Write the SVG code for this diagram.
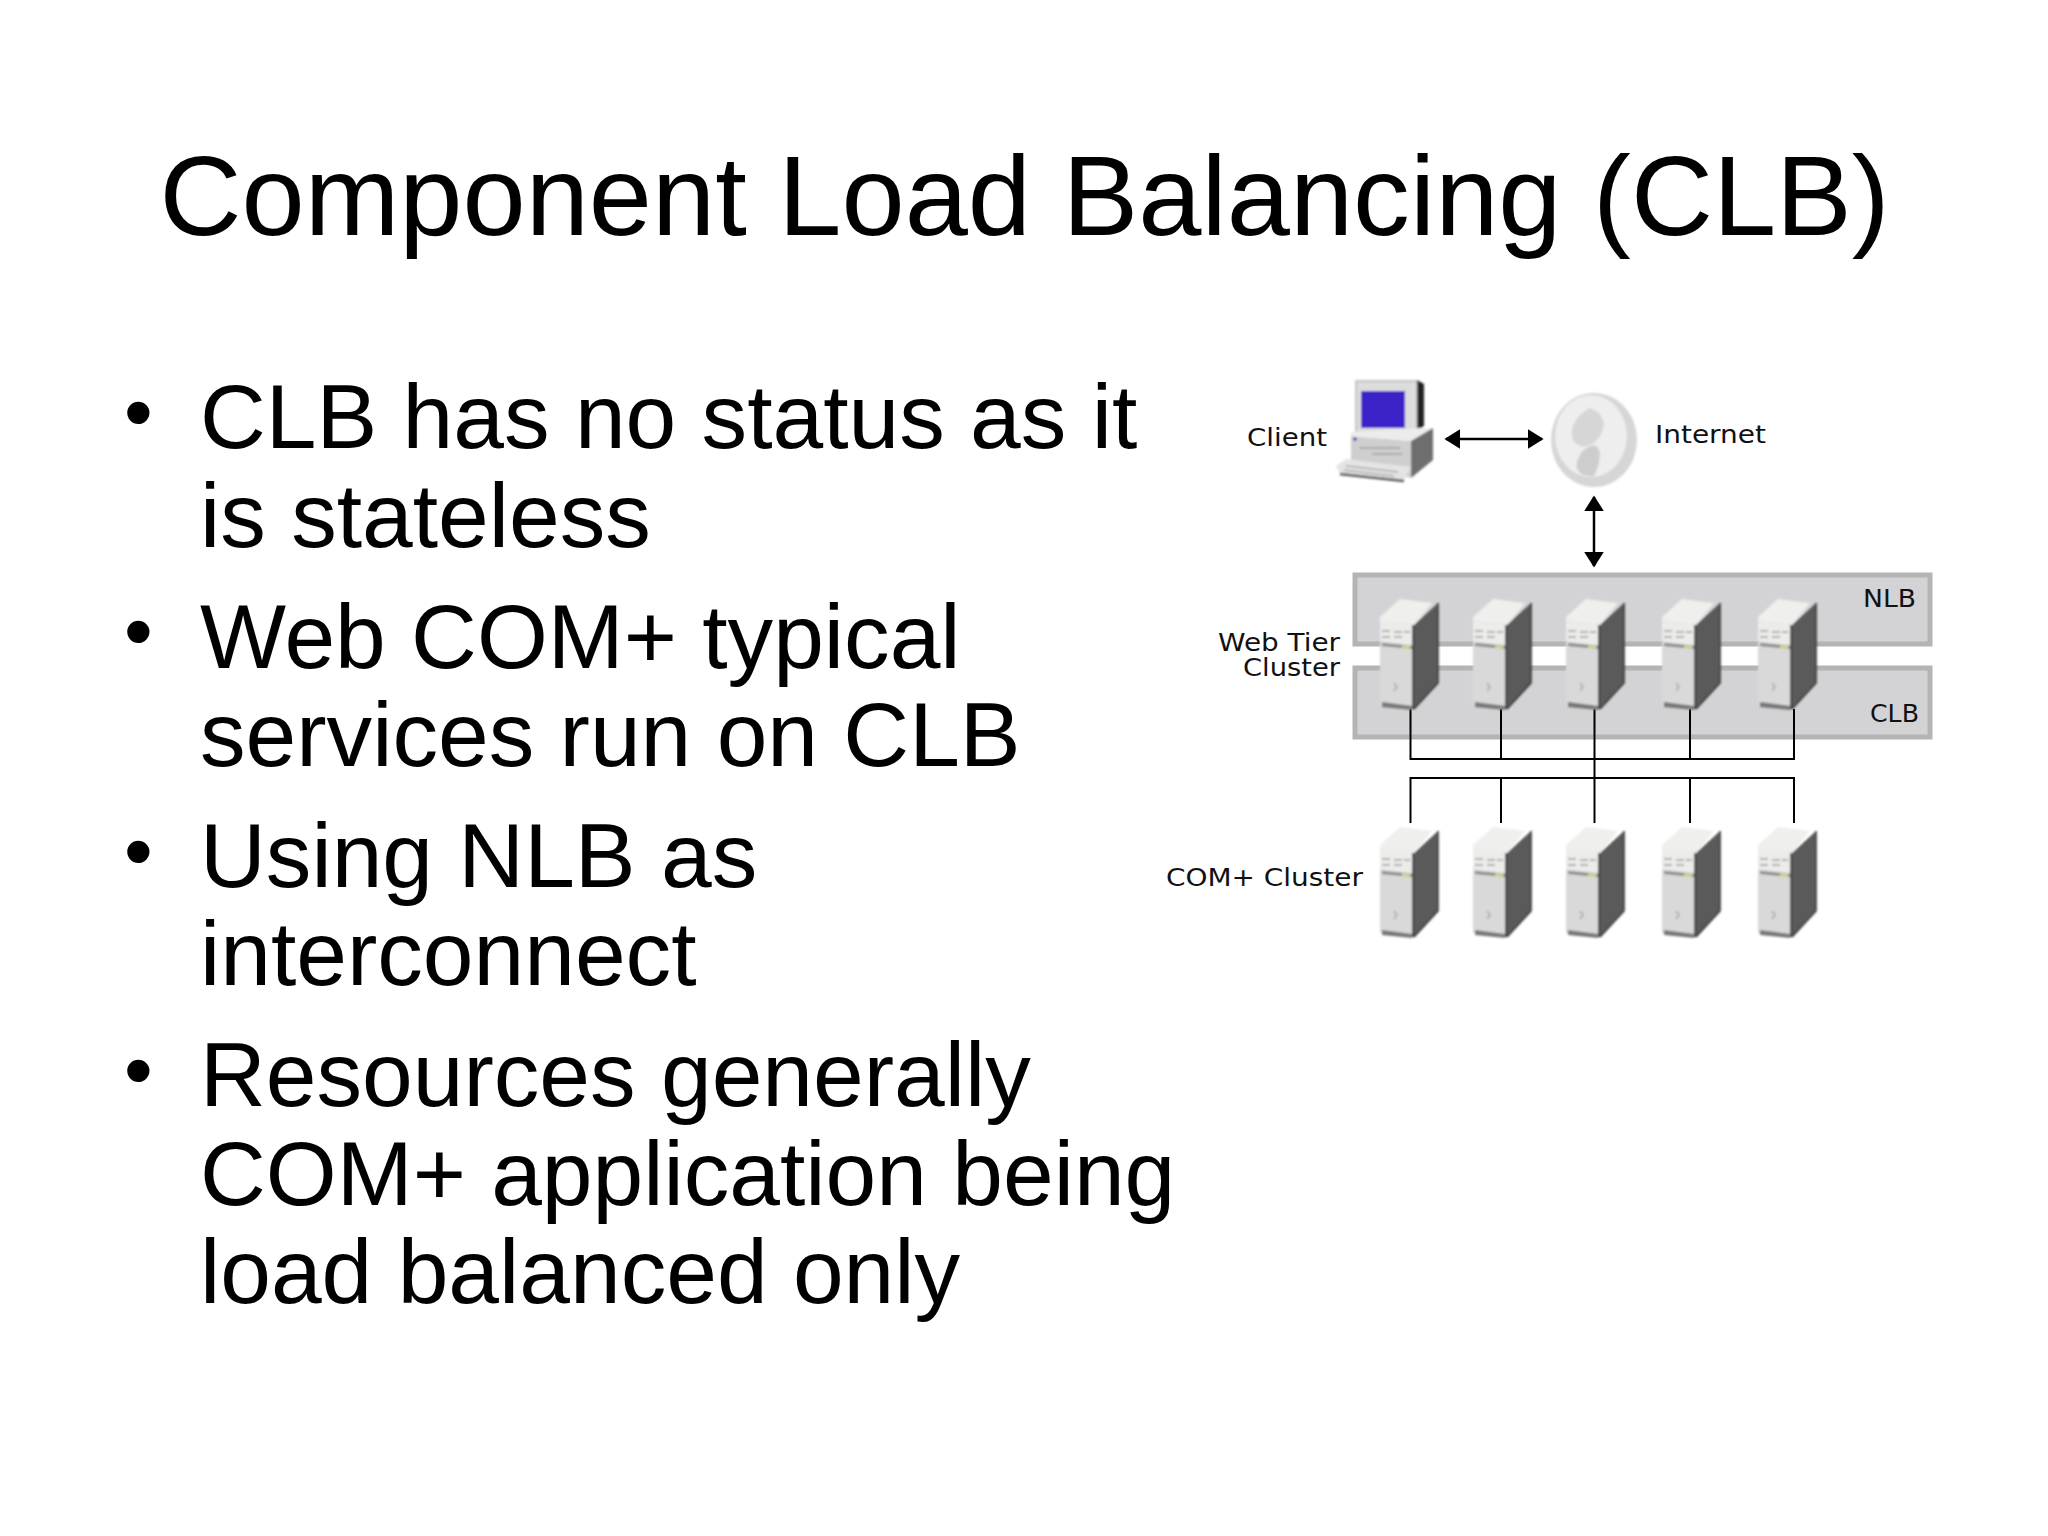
<svg xmlns="http://www.w3.org/2000/svg" width="2048" height="1536" viewBox="0 0 2048 1536">
<style>
.t{font-family:"Liberation Sans",Arial,sans-serif;fill:#000}
.title{font-size:113.600px}
.b{font-size:91.150px}
.d{font-size:82px}
.l{font-family:"DejaVu Sans",sans-serif;font-size:25px;fill:#111}
.band{fill:#d3d3d5;stroke:#b4b4b4;stroke-width:5}
.wire{fill:none;stroke:#000;stroke-width:2}
.arrow{fill:none;stroke:#000;stroke-width:2.500;marker-start:url(#ah);marker-end:url(#ah)}
</style>
<defs>
<filter id="soft" x="-10%" y="-10%" width="120%" height="120%"><feGaussianBlur stdDeviation="0.9"/></filter>
<marker id="ah" viewBox="0 0 10 10" refX="9" refY="5" markerUnits="userSpaceOnUse" markerWidth="16" markerHeight="20" orient="auto-start-reverse" preserveAspectRatio="none"><path d="M0 0L10 5L0 10Z" fill="#000"/></marker>
<g id="server" filter="url(#soft)">
<path d="M34 26L58 4V84L34 110Z" fill="#5a5a5a"/>
<path d="M58 4V84L34 110" fill="none" stroke="#333" stroke-width="1.500"/>
<path d="M0 18L20 0L52 4L34 26L0 22Z" fill="#efefed"/>
<path d="M0 22L33 26V110L0 106Z" fill="#d9d9d9"/>
<path d="M0 22L33 26V46L0 42Z" fill="#ececea"/>
<path d="M2 44L33 47V50L2 47Z" fill="#8a8a8a"/>
<path d="M2 32h8M14 33h8M24 33h6M2 38h8M14 38h8" stroke="#b0b0b0" stroke-width="2"/>
<path d="M22 48h8" stroke="#d8d490" stroke-width="3"/>
<path d="M14 84l3 4-3 4" stroke="#aaa" stroke-width="1.500" fill="none"/>
<path d="M2 103L32 107V111L2 108Z" fill="#777"/>
<path d="M33 26V110" stroke="#444" stroke-width="2"/>
</g>
</defs>
<rect width="2048" height="1536" fill="#fff"/>
<text class="t title" x="159.500" y="235">Component Load Balancing (CLB)</text>
<g id="bullets" class="t">
<g class="d"><text x="124" y="440">•</text><text x="124" y="659">•</text><text x="124" y="879">•</text><text x="124" y="1098">•</text></g>
<g class="b">
<text x="200" y="448">CLB has no status as it</text><text x="200" y="547">is stateless</text>
<text x="200" y="668">Web COM+ typical</text><text x="200" y="766">services run on CLB</text>
<text x="200" y="887">Using NLB as</text><text x="200" y="985">interconnect</text>
<text x="200" y="1106">Resources generally</text><text x="200" y="1205">COM+ application being</text><text x="200" y="1303">load balanced only</text>
</g>
</g>
<g id="client">
<g filter="url(#soft)">
<path d="M1417 380L1424 384V426L1417 432Z" fill="#222"/>
<rect x="1356" y="381" width="61" height="52" fill="#ddd" stroke="#999"/>
<rect x="1361" y="391" width="44" height="37" fill="#3a22c8"/>
<path d="M1351 436L1411 441V478L1351 464Z" fill="#cfcfcf"/>
<path d="M1351 432L1420 428L1433 428L1411 441L1351 436Z" fill="#ececec"/>
<path d="M1411 441L1433 428V460L1411 478Z" fill="#6e6e6e"/>
<circle cx="1355" cy="439" r="1.800" fill="#3a22c8"/>
<path d="M1360 448h40M1372 454h30" stroke="#aaa" stroke-width="2" fill="none"/>
<path d="M1336 466L1346 459L1411 467L1404 480L1340 474Z" fill="#e4e4e4"/>
<path d="M1340 474L1404 481" stroke="#555" stroke-width="2.500" fill="none"/>
<path d="M1346 466l52 6M1344 470l50 6" stroke="#aaa" stroke-width="1.500" fill="none"/>
</g>
<text class="l" x="1247" y="446" textLength="80" lengthAdjust="spacingAndGlyphs">Client</text>
</g>
<g id="internet">
<ellipse cx="1594" cy="440" rx="43" ry="47" fill="#d6d6d6" filter="url(#soft)"/>
<ellipse cx="1591" cy="436" rx="36" ry="41" fill="#eeeeee" filter="url(#soft)"/>
<path d="M1590 408C1614 418 1602 440 1588 446C1568 450 1564 422 1590 408Z" fill="#d6d6d6" filter="url(#soft)"/>
<path d="M1582 452C1598 436 1606 452 1594 476C1580 478 1570 468 1582 452Z" fill="#cdcdcd" filter="url(#soft)"/>
<text class="l" x="1655" y="443" textLength="111" lengthAdjust="spacingAndGlyphs">Internet</text>
</g>
<g id="nlb"><rect class="band" x="1355" y="575" width="575" height="69"/><text class="l" x="1863" y="607" textLength="53" lengthAdjust="spacingAndGlyphs">NLB</text></g>
<g id="clb"><rect class="band" x="1355" y="668" width="575" height="69"/><text class="l" x="1870" y="722" textLength="49" lengthAdjust="spacingAndGlyphs">CLB</text></g>
<g id="web-tier-label"><text class="l" x="1340" y="651" text-anchor="end" textLength="122" lengthAdjust="spacingAndGlyphs">Web Tier</text><text class="l" x="1340" y="676" text-anchor="end" textLength="97" lengthAdjust="spacingAndGlyphs">Cluster</text></g>
<g id="com-label"><text class="l" x="1166" y="886" textLength="197" lengthAdjust="spacingAndGlyphs">COM+ Cluster</text></g>
<g id="connectors">
<path class="arrow" d="M1446 439H1542"/>
<path class="arrow" d="M1594 497V566"/>
<path class="wire" d="M1410.500 709V759H1794V709M1501 709V759M1690 709V759M1594.500 709V823M1410.500 823V778H1794V823M1501 778V823M1690 778V823"/>
</g>
<g id="web-servers">
<g id="web1"><use href="#server" x="1380" y="599"/></g>
<g id="web2"><use href="#server" x="1473" y="599"/></g>
<g id="web3"><use href="#server" x="1566" y="599"/></g>
<g id="web4"><use href="#server" x="1662" y="599"/></g>
<g id="web5"><use href="#server" x="1758" y="599"/></g>
</g>
<g id="com-servers">
<g id="com1"><use href="#server" x="1380" y="827"/></g>
<g id="com2"><use href="#server" x="1473" y="827"/></g>
<g id="com3"><use href="#server" x="1566" y="827"/></g>
<g id="com4"><use href="#server" x="1662" y="827"/></g>
<g id="com5"><use href="#server" x="1758" y="827"/></g>
</g>
</svg>
